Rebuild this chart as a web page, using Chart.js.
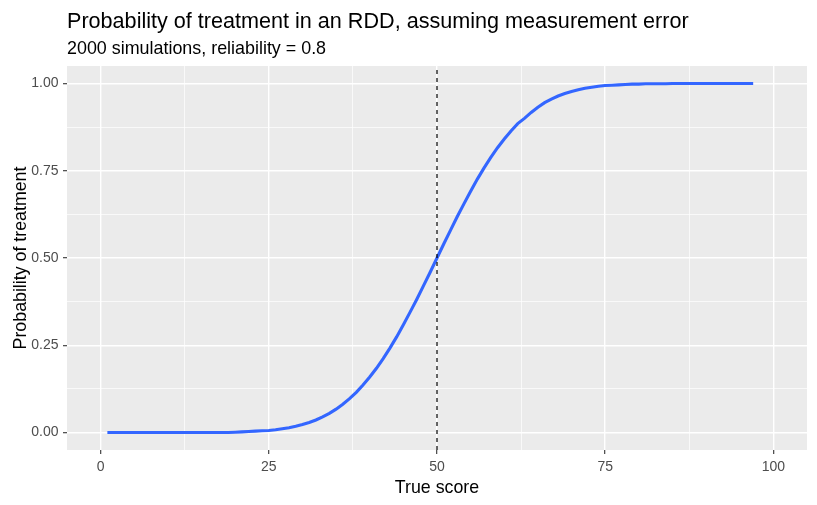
<!DOCTYPE html>
<html>
<head>
<meta charset="utf-8">
<script src="https://cdn.jsdelivr.net/npm/chart.js@4.4.0/dist/chart.umd.min.js"></script>
<style>
html,body{margin:0;padding:0;background:#fff;}
#wrap{width:817px;height:505px;}
</style>
</head>
<body>
<div id="wrap"><canvas id="c" width="817" height="505"></canvas></div>
<script>
// ---- data ----
const trueScore = [1,2,3,4,5,6,7,8,9,10,11,12,13,14,15,16,17,18,19,20,
  21,22,23,24,25,26,27,28,29,30,31,32,33,34,35,36,37,38,39,40,
  41,42,43,44,45,46,47,48,49,50,51,52,53,54,55,56,57,58,59,60,
  61,62,63,64,65,66,67,68,69,70,71,72,73,74,75,76,77,78,79,80,
  81,82,83,84,85,86,87,88,89,90,91,92,93,94,95,96,97];
const probTreat = [0,0,0,0,0,0,0,0,0,0,0,0,0,0,0,0,0,0,0,0.001,
  0.002,0.003,0.004,0.005,0.006,0.008,0.011,0.014,0.018,0.023,0.029,0.036,0.045,0.055,0.067,0.081,0.097,0.115,0.136,0.159,
  0.184,0.212,0.242,0.274,0.309,0.345,0.382,0.421,0.460,0.500,0.540,0.579,0.618,0.655,0.691,0.726,0.758,0.788,0.816,0.841,
  0.864,0.885,0.900,0.917,0.932,0.945,0.955,0.964,0.971,0.977,0.982,0.986,0.989,0.992,0.994,0.995,0.996,0.997,0.998,0.998,
  0.999,0.999,0.999,0.999,1,1,1,1,1,1,1,1,1,1,1,1,1];
const cutoff = [50];
const xMajor = [0,25,50,75,100];
const xMinor = [12.5,37.5,62.5,87.5];
const xTickLabels = ['0','25','50','75','100'];
const yMajor = [0,0.25,0.5,0.75,1];
const yMinor = [0.125,0.375,0.625,0.875];
const yTickLabels = ['0.00','0.25','0.50','0.75','1.00'];

const titleText = 'Probability of treatment in an RDD, assuming measurement error';
const subtitleText = '2000 simulations, reliability = 0.8';
const xTitle = 'True score';
const yTitle = 'Probability of treatment';

const FONT = '"Liberation Sans", Arial, sans-serif';

function buildTicks(major, minor){
  return major.concat(minor).sort((a,b)=>a-b).map(v=>({value:v}));
}
function isMajor(list, v){ return list.some(m=>Math.abs(m-v)<1e-9); }

const bgPlugin = {
  id:'bg',
  beforeDraw(chart){
    const {ctx, chartArea:a} = chart;
    ctx.save();
    ctx.fillStyle = '#ffffff';
    ctx.fillRect(0,0,chart.width,chart.height);
    ctx.fillStyle = '#EBEBEB';
    ctx.fillRect(a.left, a.top, a.right-a.left, a.bottom-a.top);
    ctx.restore();
  },
  afterDraw(chart){
    const {ctx, chartArea:a} = chart;
    ctx.save();
    ctx.fillStyle = '#000000';
    ctx.textAlign = 'left';
    ctx.textBaseline = 'alphabetic';
    ctx.font = '21.6px ' + FONT;
    ctx.fillText(titleText, 67, 28);
    ctx.font = '17.9px ' + FONT;
    ctx.fillText(subtitleText, 67, 54);
    ctx.font = '17.8px ' + FONT;
    ctx.textAlign = 'center';
    ctx.fillText(xTitle, (a.left+a.right)/2, 493);
    ctx.translate(26, (a.top+a.bottom)/2);
    ctx.rotate(-Math.PI/2);
    ctx.fillText(yTitle, 0, 0);
    ctx.restore();
  }
};

new Chart(document.getElementById('c'), {
  type:'line',
  data:{
    datasets:[
      {
        data: trueScore.map((x,i)=>({x:x, y:probTreat[i]})),
        borderColor:'#3366FF',
        borderWidth:3.1,
        pointRadius:0,
        tension:0,
        fill:false,
        order:2
      },
      {
        data: [{x:cutoff[0], y:-0.05},{x:cutoff[0], y:1.05}],
        borderColor:'#000000',
        borderWidth:1.2,
        borderDash:[4,4],
        pointRadius:0,
        fill:false,
        order:1
      }
    ]
  },
  options:{
    responsive:false,
    devicePixelRatio:1,
    animation:false,
    layout:{padding:{left:0, right:10, top:66, bottom:0}},
    plugins:{legend:{display:false}, tooltip:{enabled:false}, title:{display:false}},
    scales:{
      x:{
        type:'linear', min:-5, max:105,
        afterBuildTicks(s){ s.ticks = buildTicks(xMajor, xMinor); },
        afterFit(s){ s.height = 55; },
        border:{display:false},
        grid:{
          color:'#ffffff',
          lineWidth: c => isMajor(xMajor, c.tick.value) ? 1.4 : 0.7,
          tickColor: c => isMajor(xMajor, c.tick.value) ? '#333333' : 'rgba(0,0,0,0)',
          tickWidth:1.1,
          tickLength:4,
          drawTicks:true
        },
        ticks:{
          autoSkip:false, maxRotation:0, padding:5,
          color:'#4D4D4D',
          font:{family:FONT, size:14},
          callback:(v)=>{ const i = xMajor.findIndex(m=>Math.abs(m-v)<1e-9); return i>=0 ? xTickLabels[i] : ''; }
        }
      },
      y:{
        type:'linear', min:-0.05, max:1.05,
        afterBuildTicks(s){ s.ticks = buildTicks(yMajor, yMinor); },
        afterFit(s){ s.width = 67; },
        border:{display:false},
        grid:{
          color:'#ffffff',
          lineWidth: c => isMajor(yMajor, c.tick.value) ? 1.4 : 0.7,
          tickColor: c => isMajor(yMajor, c.tick.value) ? '#333333' : 'rgba(0,0,0,0)',
          tickWidth:1.1,
          tickLength:4,
          drawTicks:true
        },
        ticks:{
          autoSkip:false, padding:4.5,
          color:'#4D4D4D',
          font:{family:FONT, size:14},
          callback:(v)=>{ const i = yMajor.findIndex(m=>Math.abs(m-v)<1e-9); return i>=0 ? yTickLabels[i] : ''; }
        }
      }
    }
  },
  plugins:[bgPlugin]
});
</script>
</body>
</html>
